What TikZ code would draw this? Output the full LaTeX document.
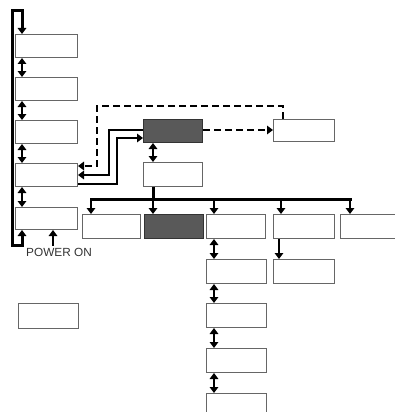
\documentclass[tikz,border=0pt]{standalone}
\usepackage{fontspec}
\setmainfont{Liberation Sans}
\usetikzlibrary{arrows.meta,calc}
\begin{document}
\begin{tikzpicture}[x=1pt,y=-1pt,
  box/.style={draw=black!60,line width=1pt,fill=white,inner sep=0pt,anchor=north west},
  darkbox/.style={box,fill=black!65,draw=black!80},
  arr/.style={line width=2.8pt,-{Triangle[width=8.5pt,length=6pt]}},
  darr/.style={line width=2.8pt,{Triangle[width=8.5pt,length=6pt]}-{Triangle[width=8.5pt,length=6pt]}},
  dasharr/.style={line width=2.5pt,dash pattern=on 7pt off 4pt,-{Triangle[width=8.5pt,length=6pt]}}]
\useasboundingbox (0,0) rectangle (395,412);
\begin{scope}
\clip (0,0) rectangle (395,412);
% left column
\node[box,minimum width=62pt,minimum height=23pt] (L1) at (15,34) {};
\node[box,minimum width=62pt,minimum height=23pt] (L2) at (15,77) {};
\node[box,minimum width=62pt,minimum height=23pt] (L3) at (15,120) {};
\node[box,minimum width=62pt,minimum height=23pt] (L4) at (15,163) {};
\node[box,minimum width=62pt,minimum height=22pt] (L5) at (15,207) {};
\node[box,minimum width=60pt,minimum height=25pt] (LB) at (18,303) {};
% middle
\node[darkbox,minimum width=59pt,minimum height=23pt] (A) at (143,119) {};
\node[box,minimum width=59pt,minimum height=24pt] (B) at (143,162) {};
\node[box,minimum width=61pt,minimum height=22pt] (R) at (273,119) {};
% row
\node[box,minimum width=58pt,minimum height=24pt] (r1) at (82,214) {};
\node[darkbox,minimum width=59pt,minimum height=24pt] (r2) at (144,214) {};
\node[box,minimum width=59pt,minimum height=24pt] (r3) at (206,214) {};
\node[box,minimum width=61pt,minimum height=24pt] (r4) at (273,214) {};
\node[box,minimum width=60pt,minimum height=24pt] (r5) at (340,214) {};
% column under r3
\node[box,minimum width=60pt,minimum height=24pt] (c1) at (206,259) {};
\node[box,minimum width=60pt,minimum height=24pt] (c2) at (206,303) {};
\node[box,minimum width=60pt,minimum height=24pt] (c3) at (206,348) {};
\node[box,minimum width=60pt,minimum height=24pt] (c4) at (206,393) {};
\node[box,minimum width=61pt,minimum height=24pt] (d1) at (273,259) {};
% text
\node[font=\fontsize{11.8}{13}\selectfont,text=black!80,inner sep=0pt] (pw) at (59,252) {POWER ON};
% helper coordinates
\coordinate (xl) at (22,0);
\coordinate (xp) at (53,0);
\coordinate (xm) at (153,0);
\coordinate (x1) at (91,0);
\coordinate (x3) at (214,0);
\coordinate (x4) at (281,0);
\coordinate (x5) at (350,0);
\coordinate (xd) at (279,0);
\coordinate (bus) at (0,199);
\coordinate (yA) at (0,130);
% loop
\draw[line width=3pt,{Triangle[width=8.5pt,length=6pt]}-{Triangle[width=8.5pt,length=6pt]},line join=miter]
  (L5.south -| xl) -- (22,245) -- (12,245) -- (12,11) -- (22,11) -- (L1.north -| xl);
\draw[arr] (pw.north -| xp) ++(0,-2) -- (L5.south -| xp);
% double arrows left
\draw[darr] (L1.south -| xl) -- (L2.north -| xl);
\draw[darr] (L2.south -| xl) -- (L3.north -| xl);
\draw[darr] (L3.south -| xl) -- (L4.north -| xl);
\draw[darr] (L4.south -| xl) -- (L5.north -| xl);
% A <-> B
\draw[darr] (A.south -| xm) -- (B.north -| xm);
% dashed
\draw[dasharr] (A.east |- yA) -- (R.west |- yA);
\draw[dasharr] (283,119) -- (283,106) -- (97,106) -- (97,166) -- (L4.east |- 0,166);
% solid links A <-> L4
\draw[arr,line join=miter] (A.west |- yA) -- (109,130) -- (109,175) -- (L4.east |- 0,175);
\draw[arr,line join=miter] (L4.east |- 0,184) -- (117,184) -- (117,138) -- (A.west |- 0,138);
% bus
\draw[line width=3pt] (B.south -| xm) -- (bus -| xm);
\draw[line width=3pt,line cap=rect] (bus -| x1) -- (bus -| x5);
\draw[arr] (bus -| x1) -- (r1.north -| x1);
\draw[arr] (bus -| xm) -- (r2.north -| xm);
\draw[arr] (bus -| x3) -- (r3.north -| x3);
\draw[arr] (bus -| x4) -- (r4.north -| x4);
\draw[arr] (bus -| x5) -- (r5.north -| x5);
% column arrows
\draw[darr] (r3.south -| x3) -- (c1.north -| x3);
\draw[darr] (c1.south -| x3) -- (c2.north -| x3);
\draw[darr] (c2.south -| x3) -- (c3.north -| x3);
\draw[darr] (c3.south -| x3) -- (c4.north -| x3);
\draw[arr] (r4.south -| xd) -- (d1.north -| xd);
\end{scope}
\end{tikzpicture}
\end{document}
